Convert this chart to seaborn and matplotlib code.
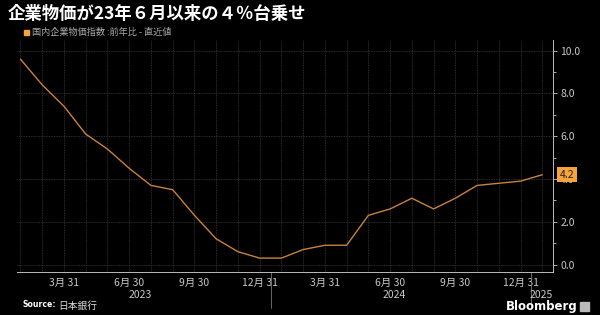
import matplotlib
matplotlib.use("Agg")
import matplotlib.pyplot as plt
import matplotlib.transforms as mtransforms
from matplotlib.ticker import MultipleLocator, FixedLocator
import seaborn as sns
import pandas as pd

# ---- data ----
months = ["2023-01", "2023-02", "2023-03", "2023-04", "2023-05", "2023-06",
          "2023-07", "2023-08", "2023-09", "2023-10", "2023-11", "2023-12",
          "2024-01", "2024-02", "2024-03", "2024-04", "2024-05", "2024-06",
          "2024-07", "2024-08", "2024-09", "2024-10", "2024-11", "2024-12",
          "2025-01"]
cgpi_yoy = [9.6, 8.4, 7.4, 6.1, 5.4, 4.5, 3.7, 3.5, 2.3, 1.2, 0.6, 0.3,
            0.3, 0.7, 0.9, 0.9, 2.3, 2.6, 3.1, 2.6, 3.1, 3.7, 3.8, 3.9,
            4.2]
tick_months = [2, 5, 8, 11, 14, 17, 20, 23]
tick_labels = ["3月 31", "6月 30", "9月 30", "12月 31",
               "3月 31", "6月 30", "9月 30", "12月 31"]
year_labels = ["2023", "2024", "2025"]
year_positions = [5.5, 17.2, 23.95]
year_bounds = [11.5, 23.5]
y_ticks = [0, 2, 4, 6, 8, 10]

title = "企業物価が23年６月以来の４％台乗せ"
legend_label = "国内企業物価指数 :前年比 - 直近値"
source = "日本銀行"

df = pd.DataFrame({"m": range(len(months)), "v": cgpi_yoy})

sns.set_style("dark")
plt.rcParams["font.family"] = ["Noto Sans CJK JP", "DejaVu Sans"]

BG = "black"
LINE = "#c8823e"
ORANGE = "#f5a33c"
TXT = "#c8c8c8"
GRID = "#3a3a3a"

fig = plt.figure(figsize=(6, 3.15), dpi=100, facecolor=BG)
ax = fig.add_axes([0.028, 0.1365, 0.894, 0.7365])
ax.set_facecolor(BG)

sns.lineplot(data=df, x="m", y="v", ax=ax, color=LINE, linewidth=1.0)

ax.set_xlim(-0.17, 24.5)
ax.set_ylim(-0.35, 10.5)

# y axis on the right
ax.yaxis.tick_right()
ax.set_yticks(y_ticks)
ax.set_yticklabels([f"{v:.1f}" for v in y_ticks])
ax.yaxis.set_minor_locator(MultipleLocator(1))
ax.tick_params(axis="y", which="both", colors=TXT, labelsize=7.5, direction="out",
               length=3, width=0.6, pad=2, left=False, right=True)
ax.tick_params(axis="y", which="minor", length=2)

# x axis
ax.xaxis.set_major_locator(FixedLocator(tick_months))
ax.set_xticklabels(tick_labels)
ax.xaxis.set_minor_locator(FixedLocator(list(range(len(months)))))
ax.tick_params(axis="x", which="both", colors=TXT, labelsize=7.5, direction="out",
               length=2, width=0.6, pad=2)

ax.set_xlabel("")
ax.set_ylabel("")

# grid
ax.grid(False)
for m in range(len(months)):
    ax.axvline(m, color=GRID, lw=0.6, ls=(0, (1, 1)), zorder=0)
for y in y_ticks:
    ax.axhline(y, color=GRID, lw=0.6, ls=(0, (1, 1)), zorder=0)

for s in ["top", "left"]:
    ax.spines[s].set_visible(False)
for s in ["bottom", "right"]:
    ax.spines[s].set_visible(True)
    ax.spines[s].set_color("#bbbbbb")
    ax.spines[s].set_linewidth(0.7)

# year labels & separators
trans = mtransforms.blended_transform_factory(ax.transData, ax.transAxes)
for lab, pos in zip(year_labels, year_positions):
    ax.text(pos, -0.1, lab, transform=trans, ha="center", va="center",
            color=TXT, fontsize=7.5)
for b in year_bounds:
    ax.plot([b, b], [0, -0.155], transform=trans, color="#777777", lw=0.6,
            clip_on=False)

# last value tag
last = cgpi_yoy[-1]
ty = mtransforms.blended_transform_factory(ax.transAxes, ax.transData)
ax.text(1.012, last, f"{last:.1f}", transform=ty, ha="left", va="center",
        fontsize=7.5, color="#222222", zorder=10,
        bbox=dict(boxstyle="square,pad=0.25", fc=ORANGE, ec="none"))

# title, legend, footer
fig.text(0.013, 0.955, title, color="white", fontsize=12.5, fontweight="bold",
         ha="left", va="center")
fig.text(0.053, 0.897, legend_label, color="#aaaaaa", fontsize=6.6,
         ha="left", va="center")
fig.patches.append(plt.Rectangle((0.040, 0.888), 0.0085, 0.017, color=ORANGE,
                                 transform=fig.transFigure, figure=fig))
fig.text(0.037, 0.02, "Source:", color="white", fontsize=5.6, fontweight="bold",
         ha="left", va="bottom", family=["DejaVu Sans"])
fig.text(0.097, 0.014, source, color="#dddddd", fontsize=7.0,
         ha="left", va="bottom")
fig.text(0.962, 0.006, "Bloomberg", color="white", fontsize=8.5, fontweight="bold",
         ha="right", va="bottom", family=["DejaVu Sans"])
fig.patches.append(plt.Rectangle((0.967, 0.014), 0.014, 0.028, color="#bbbbbb",
                                 transform=fig.transFigure, figure=fig))

fig.savefig("out.png", dpi=100, facecolor=BG)
